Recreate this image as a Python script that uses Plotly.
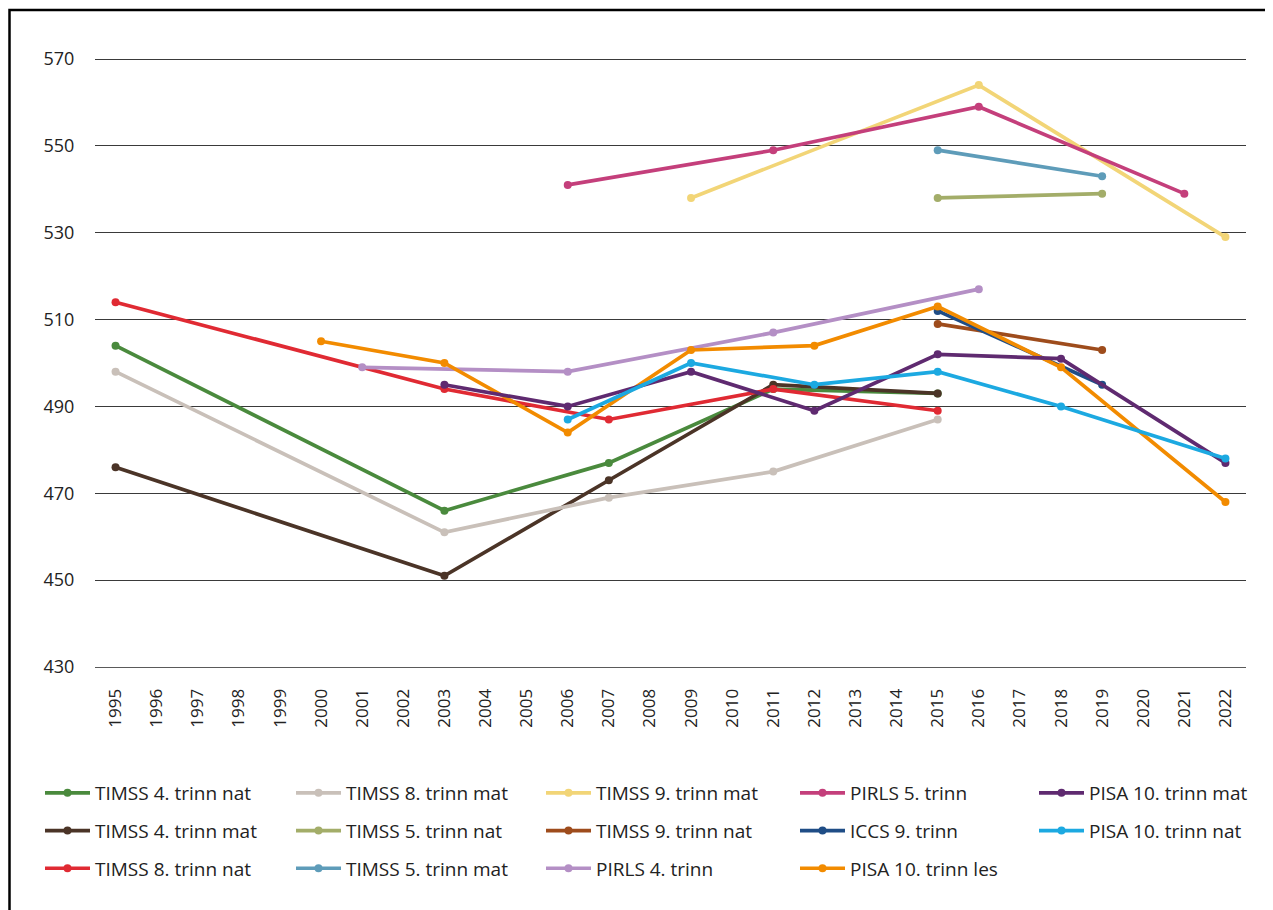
import plotly.graph_objects as go

years = [str(y) for y in range(1995, 2023)]

timss4_nat_x = ["1995", "2003", "2007", "2011", "2015"]
timss4_nat_y = [504, 466, 477, 494, 493]
timss4_mat_x = ["1995", "2003", "2007", "2011", "2015"]
timss4_mat_y = [476, 451, 473, 495, 493]
timss8_nat_x = ["1995", "2003", "2007", "2011", "2015"]
timss8_nat_y = [514, 494, 487, 494, 489]
timss8_mat_x = ["1995", "2003", "2007", "2011", "2015"]
timss8_mat_y = [498, 461, 469, 475, 487]
timss5_nat_x = ["2015", "2019"]
timss5_nat_y = [538, 539]
timss5_mat_x = ["2015", "2019"]
timss5_mat_y = [549, 543]
timss9_mat_x = ["2009", "2016", "2022"]
timss9_mat_y = [538, 564, 529]
timss9_nat_x = ["2015", "2019"]
timss9_nat_y = [509, 503]
pirls4_x = ["2001", "2006", "2011", "2016"]
pirls4_y = [499, 498, 507, 517]
pirls5_x = ["2006", "2011", "2016", "2021"]
pirls5_y = [541, 549, 559, 539]
iccs9_x = ["2015", "2019"]
iccs9_y = [512, 495]
pisa_les_x = ["2000", "2003", "2006", "2009", "2012", "2015", "2018", "2022"]
pisa_les_y = [505, 500, 484, 503, 504, 513, 499, 468]
pisa_mat_x = ["2003", "2006", "2009", "2012", "2015", "2018", "2022"]
pisa_mat_y = [495, 490, 498, 489, 502, 501, 477]
pisa_nat_x = ["2006", "2009", "2012", "2015", "2018", "2022"]
pisa_nat_y = [487, 500, 495, 498, 490, 478]

y_ticks = [430, 450, 470, 490, 510, 530, 550, 570]

series = [
    ("TIMSS 4. trinn nat", timss4_nat_x, timss4_nat_y, "#4a8a3d", "legend"),
    ("TIMSS 4. trinn mat", timss4_mat_x, timss4_mat_y, "#4b3427", "legend"),
    ("TIMSS 8. trinn nat", timss8_nat_x, timss8_nat_y, "#e02a33", "legend"),
    ("TIMSS 8. trinn mat", timss8_mat_x, timss8_mat_y, "#c9c0b9", "legend2"),
    ("TIMSS 5. trinn nat", timss5_nat_x, timss5_nat_y, "#a3ad69", "legend2"),
    ("TIMSS 5. trinn mat", timss5_mat_x, timss5_mat_y, "#5e9cb9", "legend2"),
    ("TIMSS 9. trinn mat", timss9_mat_x, timss9_mat_y, "#f2d577", "legend3"),
    ("TIMSS 9. trinn nat", timss9_nat_x, timss9_nat_y, "#9e4c1c", "legend3"),
    ("PIRLS 4. trinn", pirls4_x, pirls4_y, "#b48fc5", "legend3"),
    ("PIRLS 5. trinn", pirls5_x, pirls5_y, "#c43f7b", "legend4"),
    ("ICCS 9. trinn", iccs9_x, iccs9_y, "#1f4d86", "legend4"),
    ("PISA 10. trinn les", pisa_les_x, pisa_les_y, "#f28b00", "legend4"),
    ("PISA 10. trinn mat", pisa_mat_x, pisa_mat_y, "#5f2a70", "legend5"),
    ("PISA 10. trinn nat", pisa_nat_x, pisa_nat_y, "#1ca9e1", "legend5"),
]

fig = go.Figure()
for name, xs, ys, col, lg in series:
    fig.add_trace(go.Scatter(
        x=xs, y=ys, name=name, mode="lines+markers",
        line=dict(color=col, width=3.7),
        marker=dict(color=col, size=8),
        legend=lg, legendgroup=name, cliponaxis=False,
    ))

OFF = 8  # page body margin
W, H = 1273 - OFF, 910 - OFF
# plot area in page (reference) coordinates; 570 sits 2px below the top edge
PL, PR, PT, PB = 95, 1246, 57, 667
Y_TOP = 570 + 2 * 140 / 608
L, T = PL - OFF, PT - OFF
R = W - (PR - OFF)
B = H - (PB - OFF)
pw = PR - PL
ph = PB - PT


def px(x):
    return (x - PL) / pw


def py(y):
    return (PB - y) / ph


font = "Open Sans, Liberation Sans, sans-serif"
leg_common = dict(
    orientation="v", yanchor="top", xanchor="left",
    font=dict(family=font, size=19, color="#222"),
    bgcolor="rgba(0,0,0,0)", borderwidth=0,
    tracegroupgap=10, itemwidth=45, traceorder="grouped",
)
col_x = [40, 291, 541, 795, 1034]
leg_y = py(774)

layout_legends = {}
for i, cx in enumerate(col_x):
    key = "legend" if i == 0 else f"legend{i+1}"
    layout_legends[key] = dict(x=px(cx), y=leg_y, **leg_common)

fig.update_layout(
    width=W, height=H,
    margin=dict(l=L, r=R, t=T, b=B),
    paper_bgcolor="white", plot_bgcolor="white",
    showlegend=True,
    xaxis=dict(
        type="category", categoryorder="array", categoryarray=years,
        tickvals=years, ticktext=years,
        range=[-0.5, len(years) - 0.5],
        tickangle=-90, showgrid=False, zeroline=False,
        showline=True, linecolor="#5a5a5a", linewidth=1,
        ticks="outside", ticklen=14, tickcolor="rgba(0,0,0,0)",
        tickfont=dict(family=font, size=17, color="#222"),
    ),
    yaxis=dict(
        range=[430, Y_TOP], tickvals=y_ticks,
        showgrid=True, gridcolor="#3a3a3a", gridwidth=1,
        zeroline=False, showline=False,
        ticks="outside", ticklen=16, tickcolor="rgba(0,0,0,0)",
        tickfont=dict(family=font, size=18, color="#222"),
    ),
    shapes=[dict(
        type="rect", xref="paper", yref="paper",
        x0=px(9.5), x1=px(1300), y0=py(940), y1=py(10),
        line=dict(color="black", width=2.5), fillcolor="rgba(0,0,0,0)",
        layer="below",
    )],
    **layout_legends,
)

fig.write_html("out.html")
